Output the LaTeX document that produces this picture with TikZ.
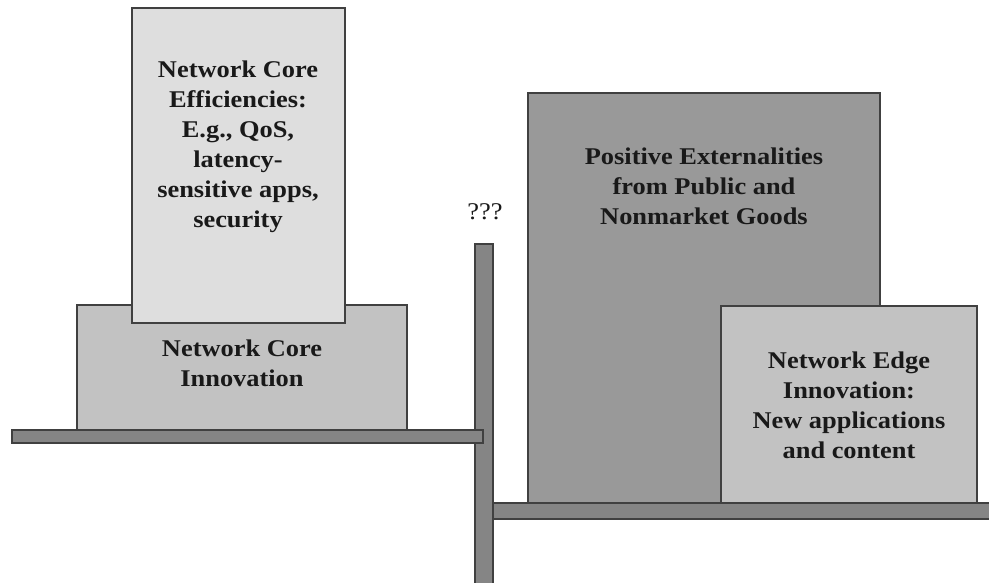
\documentclass[tikz,border=0pt]{standalone}
\usepackage{fontspec}
\setmainfont[FakeStretch=1.1]{Liberation Serif}
\begin{document}
\begin{tikzpicture}[x=1pt,y=-1pt,
  blk/.style={draw=black!75, line width=1.3pt, anchor=north west, inner sep=0pt, outer sep=0pt},
  bar/.style={blk, fill=black!48},
  lbl/.style={align=center, font=\fontsize{24}{30}\selectfont\bfseries, text=black!90}]
\useasboundingbox[fill=white] (0,0) rectangle (989,583);
% post and shelves
\node[bar, minimum width=18pt, minimum height=345pt] (post) at (475,244) {};
\node[bar, minimum width=471pt, minimum height=13pt] (lshelf) at (12,430) {};
\node[bar, minimum width=500pt, minimum height=16pt] (rshelf) at (493,503) {};
% right boxes
\node[blk, fill=black!40, minimum width=352pt, minimum height=410pt] (pos) at (528,93) {};
\node[blk, fill=black!24, minimum width=256pt, minimum height=197pt] (edge) at (721,306) {};
% left boxes
\node[blk, fill=black!24, minimum width=330pt, minimum height=125pt] (core) at (77,305) {};
\node[blk, fill=black!13, minimum width=213pt, minimum height=315pt] (eff) at (132,8) {};
% labels
\node[lbl] (efft) at (238,147) {Network Core\\Efficiencies:\\E.g., QoS,\\latency-\\sensitive apps,\\security};
\node[lbl] (coret) at (242,363) {Network Core\\Innovation};
\node[lbl] (post) at (704,186) {Positive Externalities\\from Public and\\Nonmarket Goods};
\node[lbl] (edget) at (849,405) {Network Edge\\Innovation:\\New applications\\and content};
\node[font=\fontsize{24}{30}\selectfont, text=black!90] (q) at (485,212) {???};
\end{tikzpicture}
\end{document}
